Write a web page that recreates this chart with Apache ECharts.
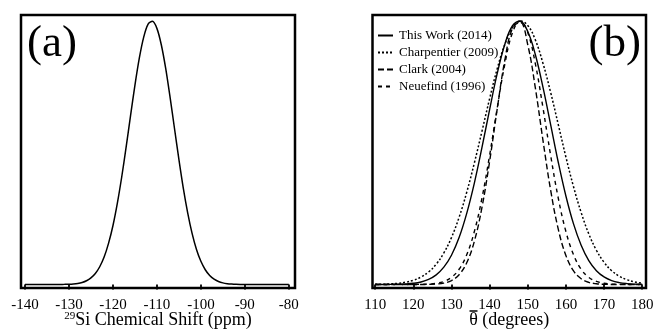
<!DOCTYPE html>
<html>
<head>
<meta charset="utf-8">
<script src="https://cdn.jsdelivr.net/npm/echarts@6/dist/echarts.min.js"></script>
<style>
  html, body { margin: 0; padding: 0; background: #fff; }
  #chart { width: 655px; height: 329px; }
</style>
</head>
<body>
<div id="chart"></div>
<script>
// Panel (a): 29Si NMR spectrum
const shiftPpm = [-140,-139,-138,-137,-136,-135,-134,-133,-132,-131,-130,-129,-128,-127,-126,-125,-124,-123,-122,-121,
  -120,-119,-118,-117,-116,-115,-114,-113,-112,-111,-110,-109,-108,-107,-106,-105,-104,-103,-102,-101,
  -100,-99,-98,-97,-96,-95,-94,-93,-92,-91,-90,-89,-88,-87,-86,-85,-84,-83,-82,-81,-80];
const siIntensity = [0,0,0,0,0,0,0.0001,0.0001,0.0002,0.0005,0.0011,0.0022,0.0042,0.0079,0.0143,0.025,0.0418,0.0673,0.104,0.156,
  0.223,0.308,0.408,0.521,0.640,0.756,0.859,0.939,0.988,0.999,0.972,0.910,0.820,0.710,0.592,0.475,0.366,0.272,0.194,0.133,
  0.088,0.056,0.034,0.020,0.0114,0.0062,0.0032,0.0016,0.0007,0.0003,0.0001,0,0,0,0,0,0,0,0,0,0];
const shiftTicks = [-140,-130,-120,-110,-100,-90,-80];

// Panel (b): Si-O-Si bond angle distributions
const thetaDeg = [110,112,114,116,118,120,122,124,126,128,130,132,134,136,138,140,142,144,146,148,
  150,152,154,156,158,160,162,164,166,168,170,172,174,176,178,180];
const thisWork = [0,0.0001,0.0003,0.0008,0.002,0.0045,0.0096,0.0193,0.0366,0.0657,0.111,0.178,0.270,0.385,0.520,0.664,0.801,0.912,0.982,0.999,
  0.960,0.872,0.748,0.607,0.464,0.336,0.230,0.149,0.0907,0.0524,0.0286,0.0147,0.0072,0.0033,0.0014,0.0006];
const charpentier = [0.0005,0.0011,0.0023,0.0045,0.0087,0.0159,0.0281,0.0474,0.0769,0.1196,0.178,0.255,0.350,0.461,0.582,0.705,0.819,0.912,0.975,1.0,
  0.983,0.928,0.839,0.729,0.607,0.484,0.371,0.273,0.192,0.130,0.0843,0.0524,0.0313,0.0179,0.0098,0.0052];
const clark = [0,0,0,0,0,0,0.0001,0.0005,0.0017,0.0054,0.0149,0.0371,0.0826,0.164,0.293,0.467,0.667,0.852,0.973,0.995,
  0.910,0.745,0.546,0.358,0.210,0.110,0.0518,0.0218,0.0082,0.0028,0.0008,0.0002,0,0,0,0];
const neuefind = [0,0,0,0,0,0.0002,0.0005,0.0016,0.0046,0.0116,0.0271,0.0578,0.113,0.201,0.328,0.490,0.670,0.837,0.956,1.0,
  0.956,0.837,0.670,0.490,0.328,0.201,0.113,0.0578,0.0271,0.0116,0.0046,0.0016,0.0005,0.0002,0,0];
const thetaTicks = [110,120,130,140,150,160,170,180];

const seriesNames = ['This Work (2014)', 'Charpentier (2009)', 'Clark (2004)', 'Neuefind (1996)'];

const pairs = (xs, ys) => xs.map((x, i) => [x, ys[i]]);

const FONT = '"Liberation Serif", "Times New Roman", serif';

const xAxisBase = (min, max, ticks, name, gridIndex, rich) => ({
  type: 'value',
  gridIndex: gridIndex,
  min: min,
  max: max,
  axisLine: { show: false },
  splitLine: { show: false },
  axisTick: {
    show: true, inside: false, length: 5,
    customValues: ticks,
    lineStyle: { color: '#000', width: 1.8 }
  },
  axisLabel: {
    customValues: ticks,
    color: '#000', fontFamily: FONT, fontSize: 15, margin: 10
  },
  name: name,
  nameLocation: 'middle',
  nameGap: 23,
  nameMoveOverlap: false,
  nameTextStyle: Object.assign({ color: '#000', fontFamily: FONT, fontSize: 18 }, rich ? { rich: rich } : {})
});

const yAxisBase = (gridIndex) => ({
  type: 'value', gridIndex: gridIndex, min: -0.0133, max: 1.0228,
  axisLine: { show: false }, axisTick: { show: false },
  axisLabel: { show: false }, splitLine: { show: false }
});

const chart = echarts.init(document.getElementById('chart'), null, { renderer: 'canvas' });

chart.setOption({
  backgroundColor: '#fff',
  animation: false,
  textStyle: { fontFamily: FONT },
  title: [
    { text: '(a)', left: 22, top: 17, textStyle: { fontFamily: FONT, fontSize: 45, fontWeight: 'normal', color: '#000' } },
    { text: '(b)', right: 9, top: 17, textStyle: { fontFamily: FONT, fontSize: 45, fontWeight: 'normal', color: '#000' } }
  ],
  grid: [
    { left: 21, top: 15, width: 274, height: 273, outerBoundsMode: 'none',
      show: true, borderColor: '#000', borderWidth: 2.5, backgroundColor: 'transparent' },
    { left: 372.5, top: 15, width: 273.5, height: 273, outerBoundsMode: 'none',
      show: true, borderColor: '#000', borderWidth: 2.5, backgroundColor: 'transparent' }
  ],
  xAxis: [
    xAxisBase(-140.9, -78.6, shiftTicks, '{sup|29}Si Chemical Shift (ppm)', 0,
      { sup: { fontSize: 11, fontFamily: FONT, color: '#000', verticalAlign: 'top', padding: [0, 0, 7, 0] } }),
    xAxisBase(109.3, 181, thetaTicks, 'θ (degrees)', 1)
  ],
  yAxis: [yAxisBase(0), yAxisBase(1)],
  legend: {
    left: 372, top: 24, orient: 'vertical',
    itemWidth: 15, itemHeight: 10, itemGap: 4,
    data: seriesNames,
    itemStyle: { opacity: 0 },
    textStyle: { fontFamily: FONT, fontSize: 13, color: '#000', padding: [0, 0, 0, 1] }
  },
  // overbar of the mean-angle symbol in the axis title
  graphic: [
    { type: 'line', shape: { x1: 469.5, y1: 311, x2: 477.5, y2: 311 },
      style: { stroke: '#000', lineWidth: 1.5 }, silent: true }
  ],
  series: [
    {
      type: 'line', xAxisIndex: 0, yAxisIndex: 0, symbol: 'none', smooth: 0.3,
      lineStyle: { color: '#000', width: 1.5 },
      data: pairs(shiftPpm, siIntensity)
    },
    {
      name: seriesNames[0], type: 'line', xAxisIndex: 1, yAxisIndex: 1, symbol: 'none', smooth: 0.4,
      itemStyle: { color: '#000' },
      lineStyle: { color: '#000', width: 1.4, type: 'solid' },
      data: pairs(thetaDeg, thisWork)
    },
    {
      name: seriesNames[1], type: 'line', xAxisIndex: 1, yAxisIndex: 1, symbol: 'none', smooth: 0.4,
      itemStyle: { color: '#000' },
      lineStyle: { color: '#000', width: 1.5, type: [2, 2] },
      data: pairs(thetaDeg, charpentier)
    },
    {
      name: seriesNames[2], type: 'line', xAxisIndex: 1, yAxisIndex: 1, symbol: 'none', smooth: 0.4,
      itemStyle: { color: '#000' },
      lineStyle: { color: '#000', width: 1.4, type: [6, 3] },
      data: pairs(thetaDeg, clark)
    },
    {
      name: seriesNames[3], type: 'line', xAxisIndex: 1, yAxisIndex: 1, symbol: 'none', smooth: 0.4,
      itemStyle: { color: '#000' },
      lineStyle: { color: '#000', width: 1.4, type: [4, 4] },
      data: pairs(thetaDeg, neuefind)
    }
  ]
});
</script>
</body>
</html>
